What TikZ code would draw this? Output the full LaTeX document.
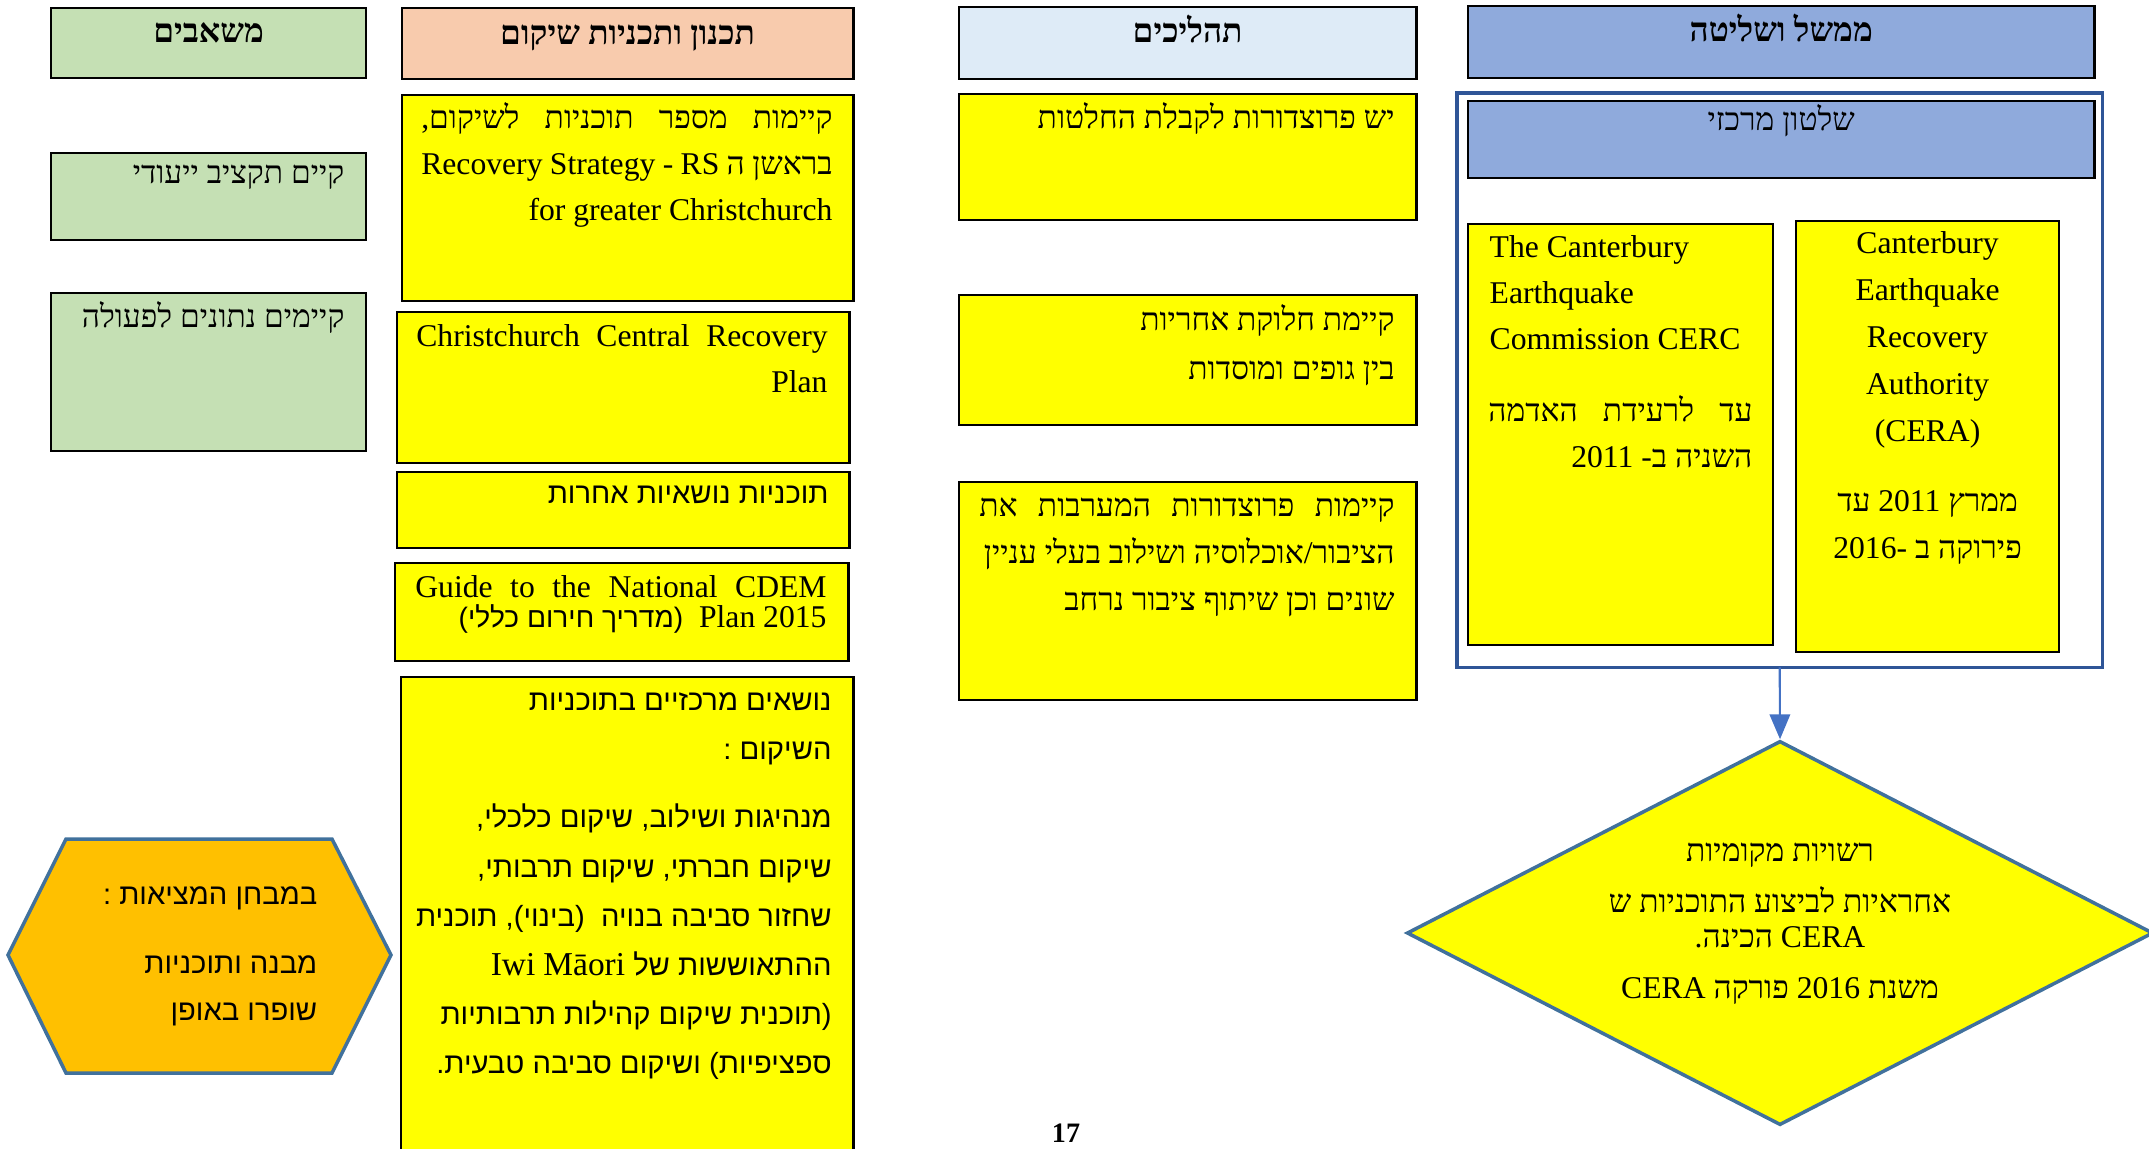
\documentclass[tikz,border=0pt]{standalone}
\usepackage{fontspec}
\setmainfont{Liberation Serif}
\newfontfamily\hebrm[Script=Hebrew]{Liberation Serif}
\newfontfamily\hebsf[Script=Hebrew]{Liberation Sans}
\usetikzlibrary{arrows,shapes.geometric}
\TeXXeTstate=1

\definecolor{resgreen}{HTML}{C5E0B4}
\definecolor{planpeach}{HTML}{F8CBAD}
\definecolor{procblue}{HTML}{DEEBF7}
\definecolor{govblue}{HTML}{8FAADC}
\definecolor{noteyellow}{HTML}{FFFF00}
\definecolor{hexorange}{HTML}{FFC000}
\definecolor{shapeline}{HTML}{41719C}
\definecolor{frameblue}{HTML}{2F5597}
\definecolor{arrowblue}{HTML}{4472C4}

% right-to-left and left-to-right runs
\newcommand{\heb}[1]{\beginR #1\endR}
\newcommand{\ltr}[1]{\beginL #1\endL}
% a justified line of fixed width
\newcommand{\spread}[2]{\makebox[#1][s]{\spaceskip=0pt\xspaceskip=0pt\relax #2}}
% rigid interword space of the current font
\newcommand{\plainspace}{\spaceskip=\fontdimen2\font\xspaceskip=\fontdimen2\font\relax}

\tikzset{
    cellnode/.style = {
        rectangle,
        draw=black,
        line width=0.7pt,
        anchor=north west,
        inner sep=0pt,
        outer sep=0pt
    },
    resnode/.style = {
        cellnode,
        fill=resgreen
    },
    notenode/.style = {
        cellnode,
        fill=noteyellow
    },
    headtext/.style = {
        inner sep=0pt,
        anchor=base,
        font=\hebrm\bfseries\fontsize{9.5}{11}\selectfont
    },
    hebtext/.style = {
        inner sep=0pt,
        anchor=base east,
        align=right,
        text width=#1,
        font=\hebrm\fontsize{9}{13.1}\selectfont,
        execute at begin node=\plainspace
    },
    hebtext/.default=4.2cm,
    sanstext/.style = {
        hebtext=#1,
        font=\hebsf\fontsize{8.3}{14}\selectfont
    },
    sanstext/.default=4.2cm,
    midtext/.style = {
        inner sep=0pt,
        anchor=base,
        align=center,
        text width=#1,
        font=\hebrm\fontsize{9}{13.4}\selectfont,
        execute at begin node=\plainspace
    },
    midtext/.default=3cm,
    flowarrow/.style = {
        -triangle 45,
        draw=arrowblue,
        line width=0.6pt
    }
}

\begin{document}
\begin{tikzpicture}[x=0.01cm, y=-0.01cm]
    \useasboundingbox (0,0) rectangle (2149,1148);

    % resources
    \node [resnode, minimum width=3.15cm, minimum height=0.70cm] (reshead) at (51,8) {};
    \node [headtext] (resheadtxt) at ([yshift=-0.34cm]reshead.north) {\heb{משאבים}};
    \node [resnode, minimum width=3.15cm, minimum height=0.87cm] (resbudget) at (51,153) {};
    \node [hebtext=3cm] (resbudgettxt) at ([shift={(-21,30)}]resbudget.north east) {\heb{קיים תקציב ייעודי}};
    \node [resnode, minimum width=3.15cm, minimum height=1.58cm] (resdata) at (51,293) {};
    \node [hebtext=3cm] (resdatatxt) at ([shift={(-21,34)}]resdata.north east) {\heb{קיימים נתונים לפעולה}};

    \draw [fill=hexorange, draw=shapeline, line width=1pt]
        (8,955) -- (66,839) -- (332,839) -- (391,955) -- (332,1073) -- (66,1073) -- cycle;
    \node [sanstext=3cm, font=\hebsf\fontsize{8.3}{13.4}\selectfont] (realitytxt) at (318,904)
        {\heb{במבחן המציאות :}\\[6.3pt]
         \heb{מבנה ותוכניות}\\
         \heb{שופרו באופן}};

    % planning
    \node [cellnode, fill=planpeach, minimum width=4.51cm, minimum height=0.71cm] (planhead) at (402,8) {};
    \node [headtext] (planheadtxt) at ([yshift=-0.36cm]planhead.north) {\heb{תכנון ותכניות שיקום}};
    \node [notenode, minimum width=4.51cm, minimum height=2.06cm] (planstrategy) at (402,95) {};
    \node [hebtext] (planstrategytxt) at ([shift={(-20,33)}]planstrategy.north east)
        {\spread{4.11cm}{\heb{קיימות מספר תוכניות לשיקום,}}\\
         \spread{4.11cm}{\heb{בראשן ה \ltr{RS} - \ltr{Recovery Strategy}}}\\
         for greater Christchurch};
    \node [notenode, minimum width=4.52cm, minimum height=1.51cm] (plancentral) at (397,312) {};
    \node [hebtext] (plancentraltxt) at ([shift={(-21,34)}]plancentral.north east)
        {\spread{4.11cm}{Christchurch Central Recovery}\\
         Plan};
    \node [notenode, minimum width=4.52cm, minimum height=0.76cm] (plantopics) at (397,472) {};
    \node [sanstext] (plantopicstxt) at ([shift={(-20,31)}]plantopics.north east) {\heb{תוכניות נושאיות אחרות}};
    \node [notenode, minimum width=4.53cm, minimum height=0.98cm] (planguide) at (395,563) {};
    \node [hebtext, font=\hebrm\fontsize{9}{8.8}\selectfont] (planguidetxt) at ([shift={(-21,34)}]planguide.north east)
        {\spread{4.11cm}{Guide to the National CDEM}\\
         \heb{\ltr{Plan 2015}\ \ {\hebsf\fontsize{8}{8.8}\selectfont (מדריך חירום כללי)}}};
    \node [notenode, minimum width=4.52cm, minimum height=5cm] (plancore) at (401,677) {};
    \node [sanstext=4.3cm] (plancoretxt) at ([shift={(-21,33)}]plancore.north east)
        {\heb{נושאים מרכזיים בתוכניות}\\
         \heb{השיקום :}\\[5.5pt]
         \heb{מנהיגות ושילוב, שיקום כלכלי,}\\
         \heb{שיקום חברתי, שיקום תרבותי,}\\
         \heb{שחזור סביבה בנויה \ (בינוי), תוכנית}\\
         \heb{ההתאוששות של {\rmfamily\fontsize{9.5}{14}\selectfont\ltr{Iwi Māori}}}\\
         \heb{(תוכנית שיקום קהילות תרבותיות}\\
         \heb{ספציפיות) ושיקום סביבה טבעית.}};

    % processes
    \node [cellnode, fill=procblue, minimum width=4.57cm, minimum height=0.72cm] (prochead) at (959,7) {};
    \node [headtext] (procheadtxt) at ([yshift=-0.35cm]prochead.north) {\heb{תהליכים}};
    \node [notenode, minimum width=4.57cm, minimum height=1.26cm] (procdecide) at (959,94) {};
    \node [hebtext] (procdecidetxt) at ([shift={(-21,34)}]procdecide.north east) {\heb{יש פרוצדורות לקבלת החלטות}};
    \node [notenode, minimum width=4.57cm, minimum height=1.30cm] (procresp) at (959,295) {};
    \node [hebtext, font=\hebrm\fontsize{9}{14.2}\selectfont] (procresptxt) at ([shift={(-21,35)}]procresp.north east)
        {\heb{קיימת חלוקת אחריות}\\
         \heb{בין גופים ומוסדות}};
    \node [notenode, minimum width=4.57cm, minimum height=2.18cm] (procpublic) at (959,482) {};
    \node [hebtext, font=\hebrm\fontsize{9}{13.4}\selectfont] (procpublictxt) at ([shift={(-21,34)}]procpublic.north east)
        {\spread{4.15cm}{\heb{קיימות פרוצדורות המערבות את}}\\
         \heb{הציבור/אוכלוסיה ושילוב בעלי עניין}\\
         \heb{שונים וכן שיתוף ציבור נרחב}};

    % governance
    \node [cellnode, fill=govblue, minimum width=6.26cm, minimum height=0.72cm] (govhead) at (1468,6) {};
    \node [headtext] (govheadtxt) at ([yshift=-0.35cm]govhead.north) {\heb{ממשל ושליטה}};
    \node [cellnode, draw=frameblue, line width=1pt, minimum width=6.45cm, minimum height=5.74cm] (govframe) at (1457,93) {};
    \node [cellnode, fill=govblue, minimum width=6.26cm, minimum height=0.77cm] (govcentral) at (1468,101) {};
    \node [midtext=4cm] (govcentraltxt) at ([yshift=-0.29cm]govcentral.north) {\heb{שלטון מרכזי}};
    \node [notenode, minimum width=3.05cm, minimum height=4.21cm] (govcerc) at (1468,224) {};
    \node [hebtext=2.64cm, anchor=base west, align=left] (cercname) at ([shift={(21,33)}]govcerc.north west)
        {The Canterbury\\
         Earthquake\\
         Commission CERC};
    \node [hebtext=2.64cm, font=\hebrm\fontsize{9}{13.1}\selectfont] (cercdate) at ([shift={(-20,197)}]govcerc.north east)
        {\spread{2.64cm}{\heb{עד לרעידת האדמה}}\\
         \heb{השניה ב- 2011}};
    \node [notenode, minimum width=2.63cm, minimum height=4.31cm] (govcera) at (1796,221) {};
    \node [midtext=2.4cm] (ceratxt) at ([yshift=-0.32cm]govcera.north)
        {Canterbury\\
         Earthquake\\
         Recovery\\
         Authority\\
         (CERA)\\[6.5pt]
         \heb{ממרץ 2011 עד}\\
         \heb{פירוקה ב -2016}};

    \node [diamond, draw=shapeline, line width=1pt, fill=noteyellow, inner sep=0pt,
           minimum width=7.46cm, minimum height=3.84cm] (localauth) at (1780,933) {};
    \node [midtext=5cm, font=\hebrm\fontsize{9}{9.7}\selectfont] (localauthtxt) at ([yshift=0.71cm]localauth.center)
        {\heb{רשויות מקומיות}\\[4.8pt]
         \heb{אחראיות לביצוע התוכניות ש}\\
         \heb{CERA הכינה.}\\[4.8pt]
         \heb{משנת 2016 פורקה CERA}};
    \draw [flowarrow] (govframe.south) -- (localauth.north);

    \node [inner sep=0pt, anchor=base, font=\bfseries\fontsize{8}{9}\selectfont] (pageno) at (1066,1142) {17};
\end{tikzpicture}
\end{document}
